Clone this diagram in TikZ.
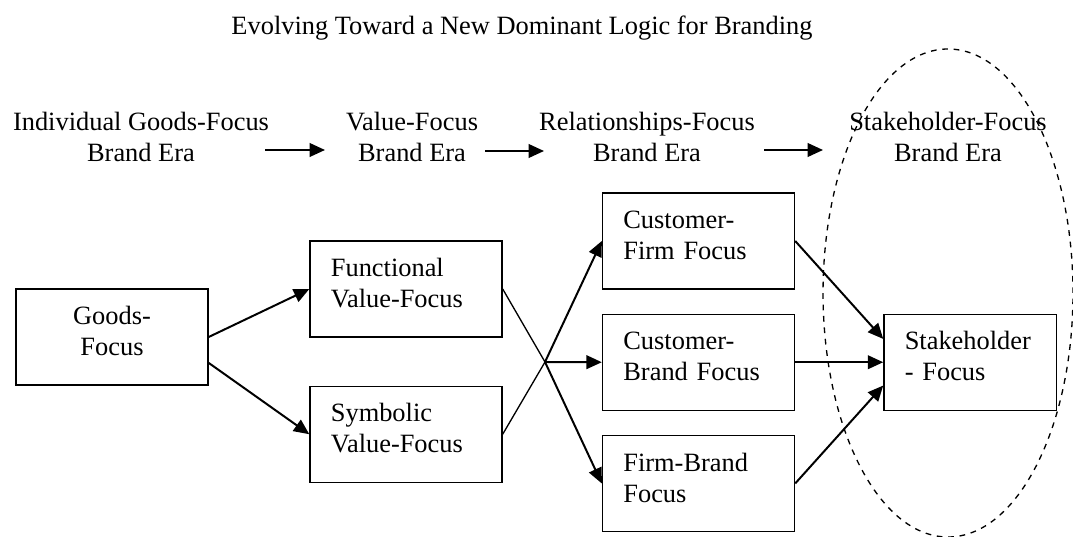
\documentclass[tikz,border=0pt]{standalone}
\usepackage{fontspec}
\setmainfont{Liberation Serif}
\usetikzlibrary{arrows.meta,positioning}

\begin{document}
\begin{tikzpicture}[
  x=0.4545pt, y=-0.4545pt,
  >={Triangle[length=7pt,width=6.2pt]},
  every node/.style={font=\fontsize{12}{14.1}\selectfont},
  mybox/.style={
    draw=black,
    line width=0.6pt,
    align=left,
    inner xsep=9.5pt,
    text width=68.3pt,
    minimum height=43.6pt,
    execute at end node={\rule[-5.4pt]{0pt}{0pt}}
  },
  myera/.style={align=center, inner sep=0pt},
  myarrow/.style={->, line width=0.9pt}
]
\useasboundingbox (0,0) rectangle (1073,537);

% Titre
\node[anchor=base] (title) at (522,35) {Evolving Toward a New Dominant Logic for Branding};

% Eras
\node[myera] (era1) at (141,137) {Individual Goods-Focus\\Brand Era};
\node[myera] (era2) at (412,137) {Value-Focus\\Brand Era};
\node[myera] (era3) at (647,137) {Relationships-Focus\\Brand Era};
\node[myera] (era4) at (948,137) {Stakeholder-Focus\\Brand Era};

\coordinate (t1) at (265,150); \coordinate (h1) at (325,150);
\coordinate (t2) at (485,151); \coordinate (h2) at (544,151);
\coordinate (t3) at (764,150); \coordinate (h3) at (823,150);

\draw[myarrow] (t1) -- (h1);
\draw[myarrow] (t2) -- (h2);
\draw[myarrow] (t3) -- (h3);

% Goods
\node[mybox, align=center] (goods) at (112,337) {Goods-\\Focus};

% Value
\node[mybox] (func) at (406,289) {Functional\\Value-Focus};
\node[mybox, below=21.8pt of func] (symb) {Symbolic\\Value-Focus};

% Relationships
\node[mybox] (cfirm) at (698.5,241) {Customer-\\Firm Focus};
\node[mybox, below=10.9pt of cfirm] (cbrand) {Customer-\\Brand Focus};
\node[mybox, below=10.9pt of cbrand] (fbrand) {Firm-Brand\\Focus};

% Stakeholder
\node[mybox, text width=59.5pt, right=40pt of cbrand] (stake) {Stakeholder\\- Focus};

\draw[dashed, dash pattern=on 2.6pt off 2.6pt, line width=0.6pt]
  (948,293) ellipse [x radius=56.8pt, y radius=110.9pt];

% Flèches
\coordinate (cross) at (545,362);
\draw[myarrow] (goods.east) -- (func.west);
\draw[myarrow] (goods.-15) -- (symb.west);
\draw[line width=0.6pt] (func.east) -- (cross);
\draw[line width=0.6pt] (symb.east) -- (cross);
\draw[myarrow] (cross) -- (cfirm.west);
\draw[myarrow] (cross) -- (cbrand.west);
\draw[myarrow] (cross) -- (fbrand.west);
\draw[myarrow] (cfirm.east) -- (stake.165);
\draw[myarrow] (cbrand.east) -- (stake.west);
\draw[myarrow] (fbrand.east) -- (stake.195);
\end{tikzpicture}
\end{document}
